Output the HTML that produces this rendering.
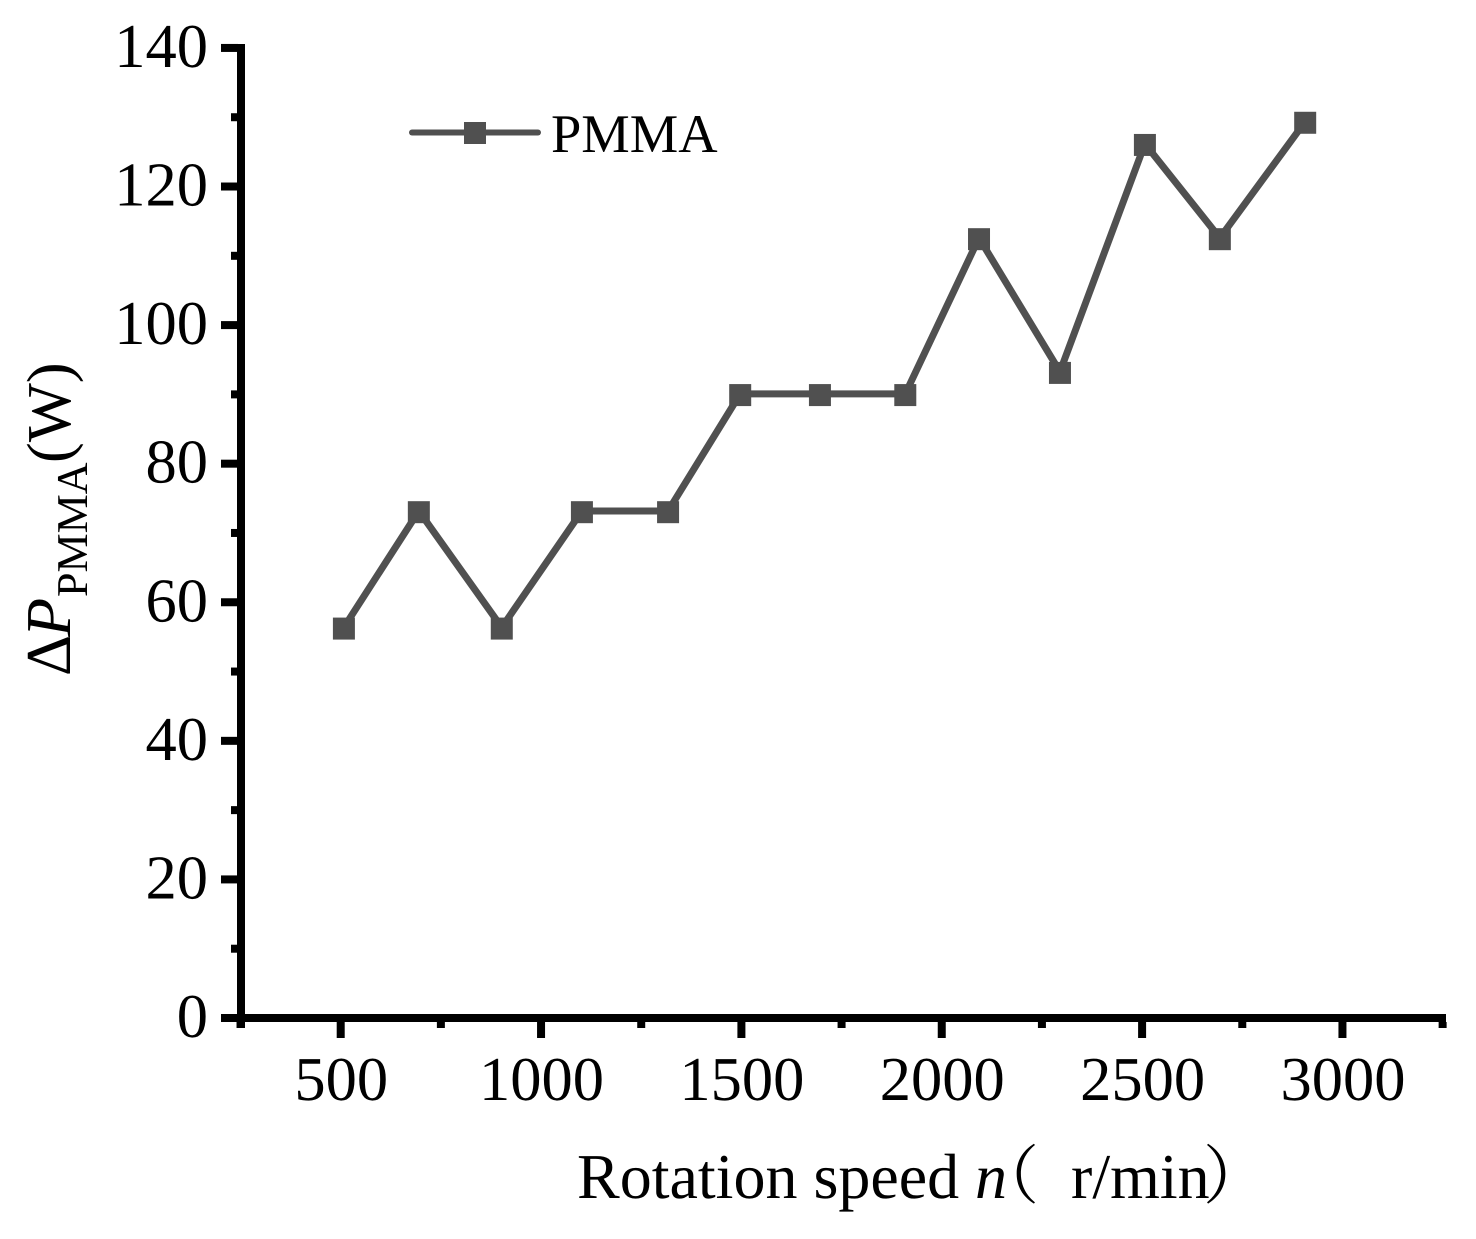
<!DOCTYPE html>
<html lang="en">
<head>
<meta charset="utf-8">
<title>PMMA power difference vs rotation speed</title>
<style>
html,body{margin:0;padding:0;background:#fff;width:1476px;height:1239px;overflow:hidden}
svg{display:block}
text{font-family:"Liberation Serif","Noto Serif CJK SC",serif;fill:#000;text-rendering:geometricPrecision}
</style>
</head>
<body>
<svg id="chart" width="1476" height="1239" viewBox="0 0 1476 1239" xmlns="http://www.w3.org/2000/svg">
  <rect x="0" y="0" width="1476" height="1239" fill="#fff"/>
  <g id="axes"></g>
  <g id="series"></g>
  <g>
    <line x1="412" y1="132.5" x2="538" y2="132.5" stroke="#505050" stroke-width="6" stroke-linecap="round"/>
    <rect x="464" y="122" width="22" height="22" fill="#505050"/>
    <text x="551" y="152" font-size="54.5">PMMA</text>
  </g>
  <text y="1198" font-size="64"><tspan x="577">Rotation speed</tspan><tspan x="975" font-style="italic">n</tspan><tspan x="975" font-family="'Noto Serif CJK SC',serif" font-size="64">（</tspan><tspan x="1071">r/min</tspan><tspan x="1203" font-family="'Noto Serif CJK SC',serif" font-size="64">）</tspan></text>
  <text transform="translate(70,676) rotate(-90)" font-size="64"><tspan x="0" y="0">Δ</tspan><tspan x="39" y="0" font-style="italic">P</tspan><tspan x="79" y="17" font-size="44">PMMA</tspan><tspan x="213" y="0" font-size="62.5">(W)</tspan></text>
</svg>
<script>
const speeds = [508, 695, 902, 1102, 1317, 1497, 1696, 1909, 2093, 2295, 2507, 2694, 2907];
const powers = [56.2, 73, 56.2, 73, 73, 89.9, 89.9, 89.9, 112.4, 93.1, 126, 112.4, 129.2];
const xTickLabels = [500, 1000, 1500, 2000, 2500, 3000];
const xMinorTicks = [250, 750, 1250, 1750, 2250, 2750, 3250];
const yTickLabels = [0, 20, 40, 60, 80, 100, 120, 140];
const yMinorTicks = [10, 30, 50, 70, 90, 110, 130];

const NS = 'http://www.w3.org/2000/svg';
const xScale = n => 340.7 + (n - 500) * 0.4007;
const yScale = v => 1018 - v * 6.929;
const axes = document.getElementById('axes');
const series = document.getElementById('series');
const AXIS = '#000';
const SERIES = '#505050';

function make(parent, tag, attrs) {
  const el = document.createElementNS(NS, tag);
  for (const k in attrs) el.setAttribute(k, attrs[k]);
  parent.appendChild(el);
  return el;
}

const yAxisLine = make(axes, 'rect', {x: 237, y: 44, width: 8, height: 984, fill: AXIS});



const xAxisLine = make(axes, 'rect', {x: 221, y: 1014, width: 1225, height: 8, fill: AXIS});



yTickLabels.forEach(v => {
  const t = make(axes, 'rect', {x: 221, y: yScale(v) - 4, width: 17, height: 8, fill: AXIS});
  
  
  const l = make(axes, 'text', {x: 208, y: yScale(v) + 19, 'text-anchor': 'end', 'font-size': 62.5});
  
  
  l.textContent = v;
});

yMinorTicks.forEach(v => {
  const t = make(axes, 'rect', {x: 231, y: yScale(v) - 4, width: 7, height: 8, fill: AXIS});
  
  
});

xTickLabels.forEach(n => {
  const t = make(axes, 'rect', {x: xScale(n) - 4, y: 1022, width: 8, height: 16, fill: AXIS});
  
  
  const l = make(axes, 'text', {x: xScale(n) + 0.5, y: 1100, 'text-anchor': 'middle', 'font-size': 62.5});
  
  
  l.textContent = n;
});

xMinorTicks.forEach(n => {
  const t = make(axes, 'rect', {x: xScale(n) - 4, y: 1022, width: 8, height: 6, fill: AXIS});
  
  
});

const points = speeds.map((n, i) => xScale(n) + ',' + (yScale(powers[i]) - 1.2)).join(' ');
const line = make(series, 'polyline', {points: points, fill: 'none', stroke: SERIES, 'stroke-width': 7, 'stroke-linejoin': 'miter'});



speeds.forEach((n, i) => {
  const m = make(series, 'rect', {x: xScale(n) - 11, y: yScale(powers[i]) - 11, width: 22, height: 22, fill: SERIES});
  
  
});
</script>
</body>
</html>
